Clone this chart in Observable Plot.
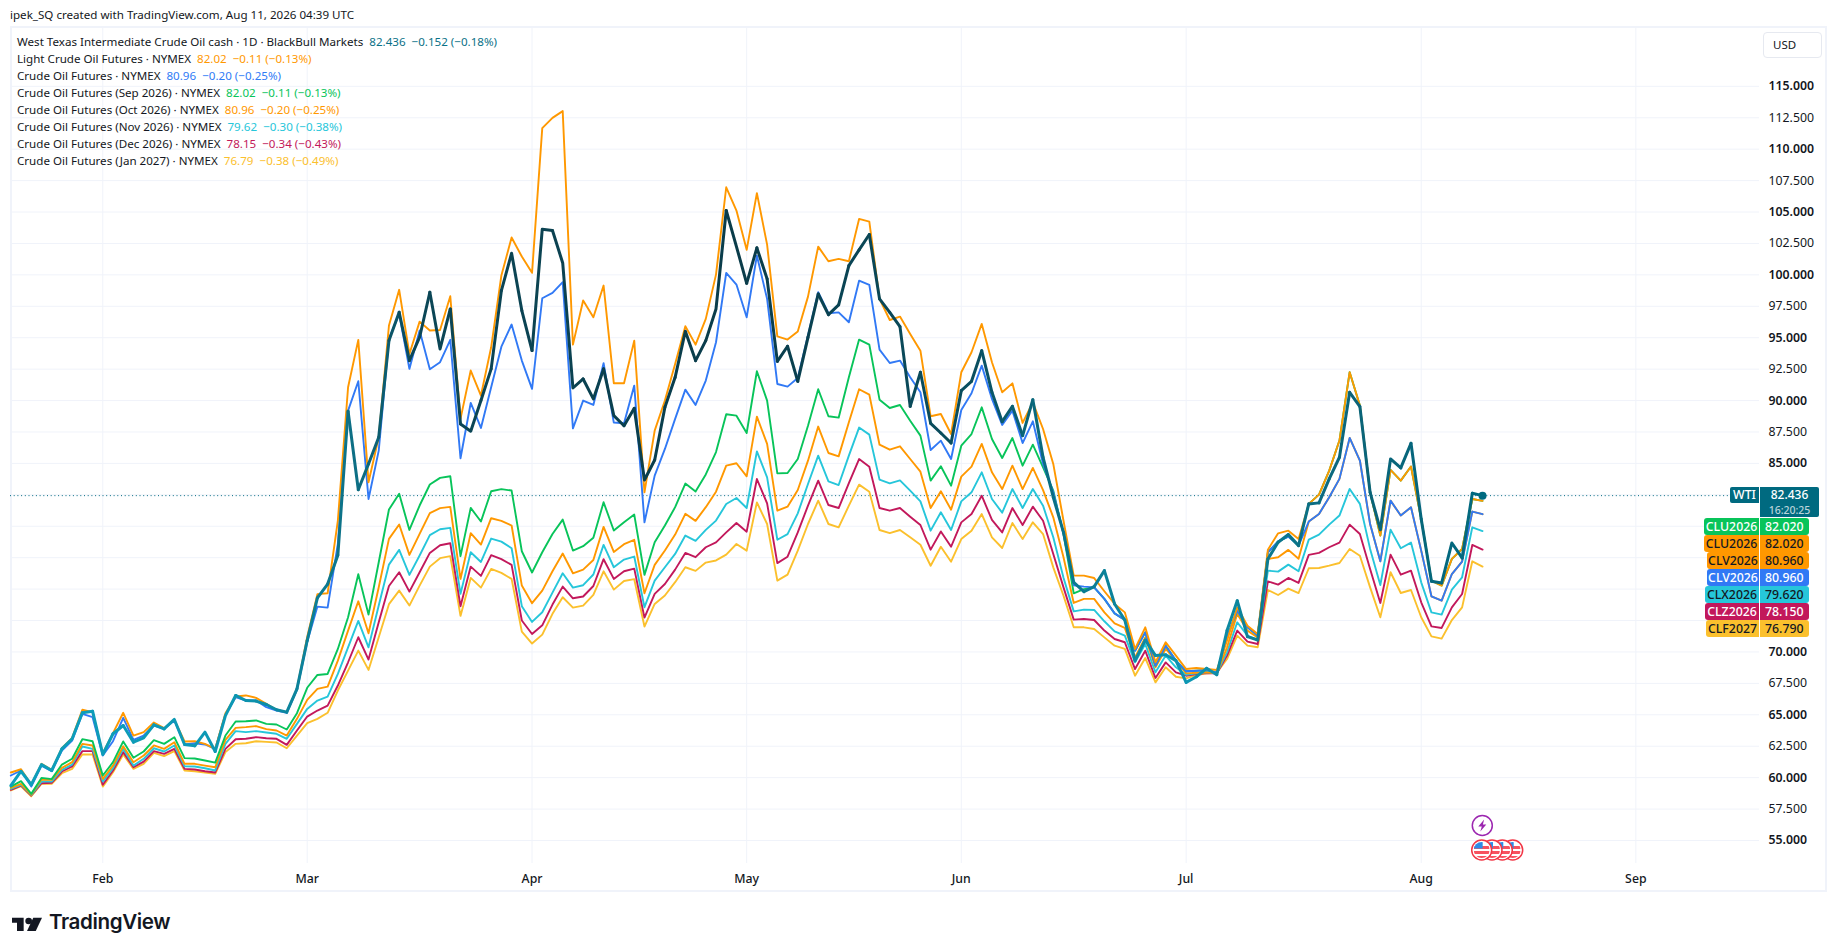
<!DOCTYPE html>
<html><head><meta charset="utf-8">
<script src="https://cdn.jsdelivr.net/npm/d3@7"></script>
<script src="https://cdn.jsdelivr.net/npm/@observablehq/plot@0.6"></script>
<style>
html,body{margin:0;padding:0;background:#fff;width:1835px;height:951px;overflow:hidden}
body{position:relative;font-family:"Noto Sans",sans-serif;color:#131722}
#chart{position:absolute;left:0;top:0}
.abs{position:absolute;white-space:nowrap}
#frame{left:10px;top:26px;width:1813px;height:862px;border:2px solid #f0f3fa;box-sizing:content-box}
.lg{left:17px;font-size:11.6px;line-height:17px;height:17px;word-spacing:0}
.lg span{margin-left:6px}
.tag{font-size:12.3px;line-height:17px;height:17px;text-align:center;font-weight:500;font-family:"Noto Sans",sans-serif}
</style></head><body>
<div id="frame" class="abs"></div>
<div id="chart"></div>
<div id="overlay"></div>
<script>
const monthLabels=["Feb","Mar","Apr","May","Jun","Jul","Aug","Sep"];
const monthDays=[0,20,42,63,84,106,129,150];
const firstDay=-9;
const wti=[59.37,60.51,59.45,61.04,60.57,62.29,63.09,65.16,65.29,
61.84,63.49,64.15,62.82,63.17,64.20,63.88,64.63,62.64,62.53,
63.62,62.08,64.94,66.54,66.14,66.09,65.82,65.40,65.21,67.07,
70.91,74.30,75.40,77.70,89.15,82.91,84.96,87.08,94.77,97.03,
93.18,95.04,98.62,94.11,97.29,88.14,87.56,90.00,92.52,98.75,
101.72,97.16,93.98,103.63,103.53,100.95,91.00,91.72,90.13,92.52,
88.80,88.00,89.38,83.68,85.27,89.47,91.85,95.52,93.18,94.77,
97.29,105.12,102.25,99.33,102.15,99.68,93.12,94.32,91.53,95.03,
98.48,96.84,97.61,100.74,101.99,103.21,98.09,97.02,95.88,89.54,
92.25,88.19,87.42,86.62,90.79,91.53,93.97,90.66,88.32,89.54,
87.21,90.07,85.48,82.31,79.52,75.54,74.80,75.20,76.47,73.82,
72.54,69.31,70.95,69.71,69.78,69.31,67.58,68.03,68.70,68.19,
71.70,74.08,71.22,70.95,77.40,78.73,79.34,78.46,81.78,81.86,
83.77,85.49,90.66,89.52,82.70,79.73,85.36,84.64,86.60,80.58,
75.62,75.49,78.67,77.48,82.62,82.436];
const lightCrude=[60.41,60.67,59.45,61.10,60.62,62.34,63.17,65.40,65.21,
61.95,63.54,65.16,63.35,63.62,64.39,63.94,64.60,62.88,62.90,
62.69,62.29,65.13,66.46,66.54,66.35,65.87,65.40,65.21,67.07,
71.20,74.60,74.67,80.45,91.06,94.83,83.50,87.08,95.97,98.81,
93.71,96.28,95.57,95.62,98.30,88.54,92.39,90.40,94.24,99.95,
102.97,101.46,100.16,111.67,112.49,113.03,94.45,97.96,96.63,99.15,
91.38,91.38,94.77,82.70,87.61,90.00,92.90,95.91,94.45,96.50,
100.02,106.97,105.12,101.99,106.50,102.41,95.11,94.85,95.49,98.27,
102.25,101.08,101.27,101.08,104.45,104.24,98.09,96.41,96.68,95.30,
93.97,88.75,88.93,87.34,92.25,93.84,96.10,93.05,90.66,91.37,
88.22,89.86,87.74,84.96,80.44,76.07,76.07,75.88,74.83,73.82,
73.15,70.24,71.96,69.18,70.77,69.71,68.64,68.72,68.64,68.56,
70.90,73.55,72.09,71.43,78.14,79.44,79.65,78.99,81.78,82.52,
84.43,86.82,92.26,89.60,82.70,79.26,84.48,83.63,84.75,80.58,
75.67,75.28,77.40,78.19,82.17,82.02];
const crude=[60.17,60.57,59.29,60.96,60.51,62.16,62.95,65.08,64.81,
61.76,62.90,64.76,63.01,63.35,64.15,63.88,64.55,62.64,62.74,
62.64,62.29,65.00,66.40,66.14,66.14,65.61,65.34,65.16,66.99,
70.80,73.61,73.53,78.60,89.20,91.54,82.17,86.02,94.90,96.90,
92.52,95.57,92.49,93.05,94.83,85.41,89.81,87.82,91.06,94.29,
96.05,93.18,90.93,98.14,98.57,99.42,87.79,90.00,89.65,92.97,
88.25,88.19,91.19,80.31,84.03,86.15,88.54,90.87,89.65,91.59,
94.64,100.16,99.23,96.63,101.53,98.09,91.32,91.11,91.80,95.17,
98.62,96.95,97.02,96.23,99.54,99.20,94.05,92.99,93.18,91.85,
90.66,86.07,86.81,85.35,89.25,90.58,92.78,90.13,88.06,89.20,
86.62,88.35,84.95,82.70,79.40,75.30,75.20,75.14,74.22,73.07,
72.54,70.10,71.56,68.91,70.50,69.31,68.46,68.51,68.56,68.38,
71.16,73.29,71.96,71.30,77.93,78.80,79.18,78.46,80.37,80.98,
82.31,83.77,87.03,85.23,80.18,77.21,82.04,80.85,81.51,78.06,
74.43,74.08,76.20,77.19,81.17,80.96];
const sep26=[59.29,59.72,58.71,59.98,59.88,61.04,61.50,63.06,62.90,
60.17,61.23,62.88,61.58,62.08,62.98,62.69,63.22,61.55,61.52,
61.36,61.20,63.35,64.47,64.49,64.55,64.28,64.23,63.83,65.13,
67.15,68.17,68.25,70.24,72.76,76.18,72.97,77.14,81.33,82.58,
79.71,81.65,83.32,83.85,83.98,77.62,81.46,80.38,82.79,82.95,
82.84,78.01,76.32,77.93,79.39,80.53,78.07,78.41,79.08,81.91,
79.66,80.32,80.93,76.13,78.73,80.06,81.52,83.40,82.76,84.12,
85.90,88.91,88.80,87.42,92.33,90.00,84.21,84.24,85.35,88.00,
90.90,88.75,88.64,91.85,94.85,94.45,90.07,89.41,89.65,88.40,
87.21,83.63,84.77,83.23,86.41,87.34,89.46,86.94,85.43,87.02,
84.82,86.49,84.69,82.83,79.38,74.67,75.00,75.14,74.22,73.07,
72.54,70.10,71.56,68.91,70.50,69.31,68.46,68.51,68.56,68.38,
71.16,73.29,71.96,71.30,77.93,78.80,79.18,78.46,81.78,82.52,
84.43,86.82,92.26,89.60,82.70,79.26,84.48,83.63,84.75,80.58,
75.67,75.28,77.40,78.19,82.17,82.02];
const oct26=[59.19,59.51,58.66,59.85,59.82,60.78,61.23,62.69,62.56,
59.90,60.96,62.50,61.23,61.76,62.56,62.29,62.82,61.10,61.10,
60.96,60.83,63.01,63.96,64.02,64.10,63.86,63.75,63.35,64.68,
66.19,67.06,67.24,69.31,71.70,74.03,71.49,75.15,79.00,80.14,
77.72,79.39,81.04,81.44,81.54,75.81,79.45,78.54,80.64,80.43,
80.06,75.28,73.88,74.88,76.42,77.83,76.26,76.55,77.32,79.95,
77.96,78.57,78.92,74.67,76.93,78.07,79.34,80.99,80.43,81.52,
82.75,84.82,85.01,83.97,88.72,86.55,81.24,81.56,82.88,85.22,
87.93,85.83,85.56,88.27,90.90,90.47,86.49,86.09,86.36,85.35,
84.34,81.45,82.78,81.32,83.95,84.74,86.55,84.29,82.96,84.82,
82.96,84.64,82.88,80.71,77.53,73.90,74.22,74.22,73.15,72.28,
71.91,69.57,71.16,68.78,70.24,69.31,68.30,68.35,68.38,68.30,
70.37,73.02,71.70,71.16,77.40,77.53,78.12,77.41,80.37,80.98,
82.31,83.77,87.03,85.23,80.18,77.21,82.04,80.85,81.51,78.06,
74.43,74.08,76.20,77.19,81.17,80.96];
const nov26=[59.11,59.43,58.63,59.69,59.69,60.62,61.04,62.48,62.29,
59.69,60.75,62.29,60.96,61.50,62.34,62.08,62.56,60.91,60.89,
60.75,60.57,62.69,63.70,63.62,63.70,63.59,63.49,63.09,64.28,
65.47,66.13,66.45,68.25,70.37,72.47,70.37,73.69,76.95,78.12,
76.13,77.67,79.29,79.76,79.87,74.62,77.93,77.16,79.02,78.78,
78.25,73.64,72.39,73.16,74.72,76.26,75.12,75.31,76.16,78.52,
76.74,77.35,77.59,73.56,75.68,76.74,77.80,79.26,78.84,79.71,
80.45,81.77,82.25,81.45,85.96,83.89,78.93,79.38,81.03,83.36,
85.62,83.57,83.28,85.62,87.85,87.29,83.71,83.41,83.65,82.83,
81.98,79.65,81.11,79.70,81.98,82.70,84.29,82.17,81.08,82.96,
81.45,82.96,81.64,79.12,75.90,73.23,73.37,73.34,72.44,71.64,
71.30,69.17,70.63,68.38,69.71,68.78,68.19,68.30,68.38,68.30,
69.97,72.36,71.30,70.95,76.47,76.39,76.95,76.42,78.94,79.34,
80.13,80.85,82.97,81.78,78.20,75.33,79.73,78.25,78.70,75.54,
73.15,72.97,74.96,75.94,79.92,79.62];
const dec26=[59.03,59.37,58.58,59.56,59.59,60.49,60.89,62.11,62.11,
59.43,60.57,62.03,60.83,61.28,62.11,61.89,62.29,60.70,60.65,
60.51,60.41,62.29,63.06,63.09,63.22,63.14,63.09,62.61,63.75,
64.86,65.34,65.73,67.33,69.18,71.17,69.39,72.36,75.25,76.34,
74.80,76.34,77.88,78.49,78.65,73.64,76.79,76.05,77.70,77.38,
76.93,72.50,71.43,72.12,73.77,75.20,74.27,74.41,75.25,77.38,
75.81,76.42,76.63,72.73,74.62,75.41,76.55,77.88,77.54,78.33,
78.72,79.51,80.26,79.57,83.76,81.82,77.07,77.58,79.51,81.64,
83.63,81.69,81.45,83.44,85.35,84.74,81.45,81.24,81.45,80.76,
80.10,78.14,79.59,78.37,80.31,80.97,82.43,80.50,79.51,81.45,
80.10,81.56,80.44,77.79,75.14,72.57,72.62,72.54,71.70,71.03,
70.77,68.64,70.10,67.93,69.17,68.38,68.11,68.25,68.33,68.30,
69.71,71.70,70.82,70.63,75.62,75.36,75.89,75.49,77.72,77.88,
78.33,78.70,80.13,79.39,76.60,73.90,77.74,76.15,76.47,73.95,
72.04,71.91,73.55,74.61,78.51,78.15];
const jan27=[58.98,59.32,58.52,59.51,59.51,60.35,60.70,61.84,61.84,
59.29,60.43,61.84,60.70,61.10,61.97,61.71,62.11,60.57,60.51,
60.41,60.30,62.03,62.69,62.74,62.90,62.85,62.80,62.34,63.35,
64.33,64.68,65.16,66.93,68.52,70.11,68.57,71.17,73.80,74.88,
73.69,75.28,76.79,77.46,77.62,72.87,75.89,75.12,76.61,76.29,
75.81,71.62,70.67,71.38,73.03,74.35,73.53,73.69,74.54,76.42,
74.96,75.65,75.79,72.02,73.82,74.49,75.55,76.74,76.45,77.11,
77.28,77.74,78.59,78.06,81.90,80.18,75.67,76.15,78.06,80.18,
82.04,80.18,79.91,81.64,83.31,82.75,79.70,79.46,79.70,79.12,
78.53,76.86,78.37,77.18,78.98,79.65,80.97,79.12,78.27,80.26,
78.98,80.31,79.38,76.73,74.47,71.96,71.96,71.83,71.16,70.50,
70.24,68.11,69.52,67.58,68.78,68.03,67.90,68.17,68.30,68.35,
69.44,71.30,70.50,70.37,74.93,74.53,75.04,74.69,76.66,76.68,
76.87,77.08,78.19,77.66,75.14,72.76,76.34,74.69,74.93,72.76,
71.24,71.06,72.54,73.55,77.21,76.79];
const gridPrices=[55,57.5,60,62.5,65,67.5,70,72.5,75,77.5,80,82.5,85,87.5,90,92.5,95,97.5,100,102.5,105,107.5,110,112.5,115];
const majorLabels=[55,60,65,70,85,90,95,100,105,110,115];
const minorLabels=[57.5,62.5,67.5,87.5,92.5,97.5,102.5,107.5,112.5];
const legendNames=["West Texas Intermediate Crude Oil cash · 1D · BlackBull Markets","Light Crude Oil Futures · NYMEX","Crude Oil Futures · NYMEX","Crude Oil Futures (Sep 2026) · NYMEX","Crude Oil Futures (Oct 2026) · NYMEX","Crude Oil Futures (Nov 2026) · NYMEX","Crude Oil Futures (Dec 2026) · NYMEX","Crude Oil Futures (Jan 2027) · NYMEX"];
const legendValues=["82.436  −0.152 (−0.18%)","82.02  −0.11 (−0.13%)","80.96  −0.20 (−0.25%)","82.02  −0.11 (−0.13%)","80.96  −0.20 (−0.25%)","79.62  −0.30 (−0.38%)","78.15  −0.34 (−0.43%)","76.79  −0.38 (−0.49%)"];
const legendColors=["#0a7187","#ff9800","#2f7bf6","#08c45a","#ff9800","#26c6da","#c2185b","#fbc02d"];
const tagNames=["CLU2026","CLU2026","CLV2026","CLV2026","CLX2026","CLZ2026","CLF2027"];
const tagValues=["82.020","82.020","80.960","80.960","79.620","78.150","76.790"];
const tagFills=["#08c45a","#ff9800","#ff9800","#3179f5","#26c6da","#c2185b","#fbc02d"];
const tagInks=["#fff","#131722","#131722","#fff","#131722","#fff","#131722"];

const rows=a=>a.map((price,k)=>({day:firstDay+k,price}));
const wtiStops=d3.scaleLinear()
  .domain([-9,12,20,25,30,62,85,95,106,113,122,135])
  .range(["#0d9fbc","#0d98b4","#0c7f97","#0d6b80","#0b4757","#0a3c4a","#0a4f60","#0a7a90","#0d97b3","#0c7c92","#0b6378","#006a80"]);
const wtiRows=rows(wti).map(d=>({...d,color:wtiStops(d.day)}));
const thin=[[jan27,"#fbc02d"],[dec26,"#c2185b"],[nov26,"#26c6da"],[oct26,"#ff9800"],[sep26,"#08c45a"],[crude,"#3179f5"],[lightCrude,"#ff9800"]];
const font='"Noto Sans",sans-serif';
const plot=Plot.plot({
  width:1835,height:951,marginLeft:10,marginRight:76,marginTop:26,marginBottom:88,
  style:{fontFamily:font,background:"transparent",color:"#131722",overflow:"visible"},
  x:{domain:[-9.03,162.1],axis:null},
  y:{domain:[53.17,119.76],axis:null},
  color:{type:"identity"},
  marks:[
    Plot.gridY(gridPrices,{stroke:"#f0f3fa",strokeOpacity:1,strokeWidth:1}),
    Plot.gridX(monthDays,{stroke:"#f0f3fa",strokeOpacity:1,strokeWidth:1}),
    Plot.axisY(majorLabels,{anchor:"right",tickSize:0,tickPadding:9,tickFormat:d3.format(".3f"),fontSize:12.3,fontWeight:600,label:null}),
    Plot.axisY(minorLabels,{anchor:"right",tickSize:0,tickPadding:9,tickFormat:d3.format(".3f"),fontSize:12.3,label:null}),
    Plot.axisX(monthDays,{anchor:"bottom",tickSize:0,tickPadding:11,tickFormat:(d,k)=>monthLabels[k],fontSize:12.3,fontWeight:500,label:null}),
    Plot.ruleY([wti[wti.length-1]],{stroke:"#006a80",strokeWidth:1,strokeDasharray:"1 2.7"}),
    ...thin.map(([a,c])=>Plot.line(rows(a),{x:"day",y:"price",stroke:c,strokeWidth:1.9,strokeLinejoin:"round"})),
    Plot.line(wtiRows,{x:"day",y:"price",stroke:"color",z:null,strokeWidth:3,strokeLinecap:"round",strokeLinejoin:"round"}),
    Plot.dot(wtiRows.slice(-1),{x:"day",y:"price",r:4,fill:"#006a80",stroke:"none"})
  ]
});
document.getElementById("chart").append(plot);

const ov=document.getElementById("overlay");
const el=(cls,css,html)=>{const d=document.createElement("div");d.className="abs "+cls;d.style.cssText=css;d.innerHTML=html;ov.append(d);return d;};
el("", "left:10px;top:7px;font-size:11.6px;line-height:16px;color:#131722","ipek_SQ created with TradingView.com, Aug 11, 2026 04:39 UTC");
legendNames.forEach((n,k)=>{
  el("lg",`top:${33+k*17}px`,`${n}<span style="color:${legendColors[k]};white-space:pre">${legendValues[k]}</span>`);
});
el("",`left:1763px;top:32px;width:57px;height:24px;border:1px solid #e6e9f0;border-radius:4px;font-size:11.5px;line-height:24px;text-indent:9px;background:#fff`,"USD");
el("tag",`left:1730px;top:487px;width:29px;background:#006a80;color:#fff;border-radius:2px 0 0 2px;height:16px;line-height:16px`,"WTI");
el("",`left:1760px;top:487px;width:59px;height:30px;background:#006a80;border-radius:0 2px 2px 0`,"");
el("tag",`left:1760px;top:487px;width:59px;height:15px;line-height:15px;color:#fff;font-size:12px`,"82.436");
el("tag",`left:1760px;top:503px;width:59px;height:14px;line-height:14px;color:#b9d3da;font-size:10.5px`,"16:20:25");
tagNames.forEach((n,k)=>{
  const top=518+k*17;
  const left=[1704,1704,1707,1707,1705,1705,1706][k];
  el("tag",`left:${left}px;top:${top}px;width:${1759-left}px;background:${tagFills[k]};color:${tagInks[k]};border-radius:3px 0 0 3px`,n);
  el("tag",`left:1760px;top:${top}px;width:48.5px;background:${tagFills[k]};color:${tagInks[k]};border-radius:0 3px 3px 0`,tagValues[k]);
});
const flag=cx=>`<g transform="translate(${cx} 20)"><circle r="10" fill="#fff" stroke="#f23645" stroke-width="1.5"/><clipPath id="c${Math.round(cx)}"><circle r="8"/></clipPath><g clip-path="url(#c${Math.round(cx)})"><rect x="-8" y="-4" width="16" height="3" fill="#f7525f"/><rect x="-8" y="1" width="16" height="3" fill="#f7525f"/><rect x="-8" y="6" width="16" height="2.5" fill="#f7525f"/><rect x="-8" y="-8" width="9" height="6.5" fill="#2e8be6"/></g></g>`;
el("",`left:1470px;top:813px;width:60px;height:50px`,`<svg width="60" height="50" style="position:absolute;left:0;top:-7px;overflow:visible"><g transform="translate(12.3 19.5)"><circle r="10" fill="#fff" stroke="#9c27b0" stroke-width="1.5"/><path d="M1.8-6L-4 1H-.5L-2 6L4-1H.6z" fill="#9c27b0"/></g><g transform="translate(0 24)">${[42.7,32.3,22,11.7].map(flag).join("")}</g></svg>`);
el("",`left:12px;top:915px;width:31px;height:16px`,`<svg width="30" height="15" viewBox="0 6 36 16.5"><path d="M14 6H0v6h6v10h8V6z" fill="#131722"/><circle cx="20" cy="10" r="4" fill="#131722"/><path d="M18 22l7.5-16H36l-7.5 16H18z" fill="#131722"/></svg>`);
el("",`left:49px;top:907px;font-family:Inter,sans-serif;font-size:20.6px;line-height:30px;font-weight:600;color:#131722;letter-spacing:-.4px`,"TradingView");
</script>
</body></html>
